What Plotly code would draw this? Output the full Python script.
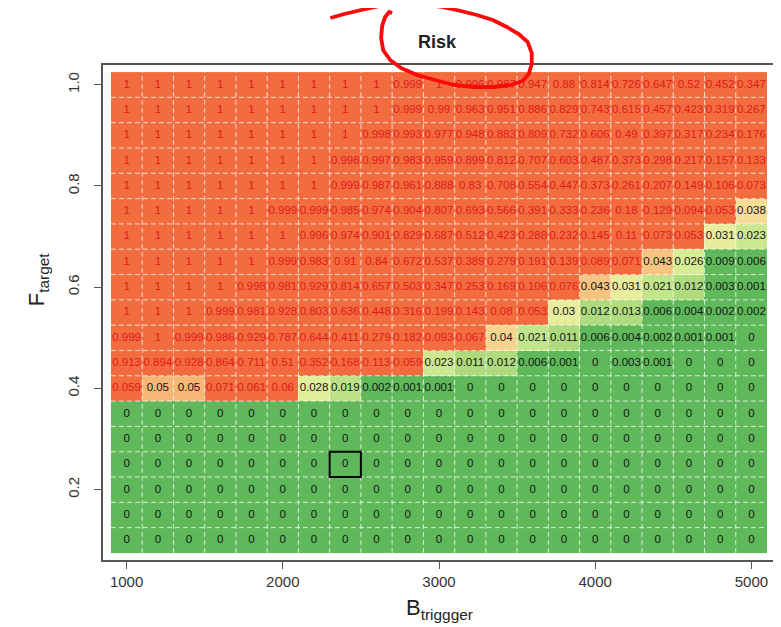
import plotly.graph_objects as go

# ---------------- data ----------------
b_trigger = [1000 + 200 * i for i in range(21)]
f_target = [round(0.10 + 0.05 * j, 2) for j in range(19)]

risk_100 = [1, 1, 1, 1, 1, 1, 1, 1, 1, 0.999, 1, 0.996, 0.987, 0.947, 0.88, 0.814, 0.726, 0.647, 0.52, 0.452, 0.347]
risk_095 = [1, 1, 1, 1, 1, 1, 1, 1, 1, 0.999, 0.99, 0.963, 0.951, 0.886, 0.829, 0.743, 0.615, 0.457, 0.423, 0.319, 0.267]
risk_090 = [1, 1, 1, 1, 1, 1, 1, 1, 0.998, 0.993, 0.977, 0.948, 0.883, 0.809, 0.732, 0.606, 0.49, 0.397, 0.317, 0.234, 0.176]
risk_085 = [1, 1, 1, 1, 1, 1, 1, 0.998, 0.997, 0.983, 0.959, 0.899, 0.812, 0.707, 0.603, 0.487, 0.373, 0.298, 0.217, 0.157, 0.133]
risk_080 = [1, 1, 1, 1, 1, 1, 1, 0.999, 0.987, 0.961, 0.888, 0.83, 0.708, 0.554, 0.447, 0.373, 0.261, 0.207, 0.149, 0.106, 0.073]
risk_075 = [1, 1, 1, 1, 1, 0.999, 0.999, 0.985, 0.974, 0.904, 0.807, 0.693, 0.566, 0.391, 0.333, 0.236, 0.18, 0.129, 0.094, 0.053, 0.038]
risk_070 = [1, 1, 1, 1, 1, 1, 0.996, 0.974, 0.901, 0.829, 0.687, 0.512, 0.423, 0.288, 0.232, 0.145, 0.11, 0.073, 0.053, 0.031, 0.023]
risk_065 = [1, 1, 1, 1, 1, 0.999, 0.983, 0.91, 0.84, 0.672, 0.537, 0.389, 0.279, 0.191, 0.139, 0.089, 0.071, 0.043, 0.026, 0.009, 0.006]
risk_060 = [1, 1, 1, 1, 0.998, 0.981, 0.929, 0.814, 0.657, 0.503, 0.347, 0.253, 0.169, 0.106, 0.076, 0.043, 0.031, 0.021, 0.012, 0.003, 0.001]
risk_055 = [1, 1, 1, 0.999, 0.981, 0.928, 0.803, 0.636, 0.448, 0.316, 0.199, 0.143, 0.08, 0.053, 0.03, 0.012, 0.013, 0.006, 0.004, 0.002, 0.002]
risk_050 = [0.999, 1, 0.999, 0.986, 0.929, 0.787, 0.644, 0.411, 0.279, 0.182, 0.093, 0.067, 0.04, 0.021, 0.011, 0.006, 0.004, 0.002, 0.001, 0.001, 0]
risk_045 = [0.913, 0.894, 0.928, 0.864, 0.711, 0.51, 0.352, 0.168, 0.113, 0.059, 0.023, 0.011, 0.012, 0.006, 0.001, 0, 0.003, 0.001, 0, 0, 0]
risk_040 = [0.059, 0.05, 0.05, 0.071, 0.061, 0.06, 0.028, 0.019, 0.002, 0.001, 0.001, 0, 0, 0, 0, 0, 0, 0, 0, 0, 0]
risk_035 = [0] * 21
risk_030 = [0] * 21
risk_025 = [0] * 21
risk_020 = [0] * 21
risk_015 = [0] * 21
risk_010 = [0] * 21

# rows listed bottom (F=0.10) to top (F=1.00)
risk_rows = [risk_010, risk_015, risk_020, risk_025, risk_030, risk_035, risk_040,
             risk_045, risk_050, risk_055, risk_060, risk_065, risk_070, risk_075,
             risk_080, risk_085, risk_090, risk_095, risk_100]

x_ticks = [1000, 2000, 3000, 4000, 5000]
y_ticks = [0.2, 0.4, 0.6, 0.8, 1.0]
y_tick_labels = ["0.2", "0.4", "0.6", "0.8", "1.0"]

highlight_b = 2400
highlight_f = 0.25

title_text = "<b>Risk</b>"
x_title = "B<sub>triggger</sub>"
y_title = "F<sub>target</sub>"

# ---------------- styling ----------------
GREEN = "rgb(95,185,90)"
RED = "rgb(242,108,64)"
threshold = 0.05
colorscale = [
    [0.0, GREEN],
    [0.0099, GREEN],
    [0.011, "rgb(172,218,125)"],
    [0.02, "rgb(190,226,135)"],
    [0.028, "rgb(224,239,155)"],
    [0.036, "rgb(246,231,160)"],
    [0.043, "rgb(246,196,128)"],
    [0.05, "rgb(245,182,118)"],
    [0.0501, RED],
    [1.0, RED],
]

dx = b_trigger[1] - b_trigger[0]
dy = f_target[1] - f_target[0]

fig = go.Figure()
fig.add_trace(go.Heatmap(
    x=b_trigger, y=f_target, z=risk_rows,
    zmin=0, zmax=1, colorscale=colorscale, showscale=False,
    hoverinfo="skip",
))

tx, ty, tt, tc = [], [], [], []
for j, f in enumerate(f_target):
    for i, b in enumerate(b_trigger):
        v = risk_rows[j][i]
        tx.append(b)
        ty.append(f)
        tt.append(f"{v:g}")
        tc.append("rgb(225,25,25)" if v > threshold else "rgb(20,20,20)")

fig.add_trace(go.Scatter(
    x=tx, y=ty, text=tt, mode="text",
    textfont=dict(family="Liberation Sans, Arial", size=11.5, color=tc),
    hoverinfo="skip", showlegend=False,
))

shapes = []
x_lo, x_hi = b_trigger[0] - dx / 2, b_trigger[-1] + dx / 2
y_lo, y_hi = f_target[0] - dy / 2, f_target[-1] + dy / 2
grid_line = dict(color="rgba(255,255,255,0.75)", width=1, dash="5px,3px")
for k in range(len(b_trigger) - 1):
    xb = (b_trigger[k] + b_trigger[k + 1]) / 2
    shapes.append(dict(type="line", xref="x", yref="y", x0=xb, x1=xb, y0=y_lo, y1=y_hi,
                       line=grid_line, layer="above"))
for k in range(len(f_target) - 1):
    yb = (f_target[k] + f_target[k + 1]) / 2
    shapes.append(dict(type="line", xref="x", yref="y", x0=x_lo, x1=x_hi, y0=yb, y1=yb,
                       line=grid_line, layer="above"))

shapes.append(dict(type="rect", xref="x", yref="y",
                   x0=highlight_b - dx / 2, x1=highlight_b + dx / 2,
                   y0=highlight_f - dy / 2, y1=highlight_f + dy / 2,
                   line=dict(color="black", width=2), layer="above"))

# page offset (browser body margin) and reference pixel frame of the plot box
OFF = 8
W, H = 781, 627
PL, PR, PT, PB = 103, 777, 65, 560


def px(v):
    return (v - PL) / (PR - PL)


def py(v):
    return (PB - v) / (PB - PT)


# hand-drawn red loop around the title (decoration, in reference pixel units)
ink = [(331, 18), (345, 14), (362, 10), (380, 6), (402, 4), (423, 4), (443, 7),
       (462, 11), (478, 15), (494, 20), (508, 27), (520, 34), (529, 42), (533, 53),
       (533, 64), (530, 74), (524, 81), (512, 85), (495, 87), (475, 87), (455, 85),
       (436, 80), (418, 75), (402, 68), (391, 60), (384, 50), (382, 38), (383, 26),
       (386, 17), (390, 12), (393, 13)]
path = "M " + " L ".join(f"{px(a):.4f},{py(b):.4f}" for a, b in ink)
shapes.append(dict(type="path", xref="paper", yref="paper", path=path,
                   line=dict(color="rgb(250,10,10)", width=3.8)))

font_family = "Liberation Sans, Arial"
annotations = [
    dict(text=title_text, xref="paper", yref="paper", x=px(438), y=py(42),
         xanchor="center", yanchor="middle", showarrow=False,
         font=dict(family=font_family, size=18, color="#222")),
    dict(text=x_title, xref="paper", yref="paper", x=px(440), y=py(609),
         xanchor="center", yanchor="middle", showarrow=False,
         font=dict(family=font_family, size=22, color="#222")),
    dict(text=y_title, xref="paper", yref="paper", x=px(38), y=py(279),
         xanchor="center", yanchor="middle", showarrow=False, textangle=-90,
         font=dict(family=font_family, size=22, color="#222")),
]

axis_common = dict(showline=True, mirror=True, linecolor="#555", linewidth=1.6,
                   ticks="outside", ticklen=7, tickwidth=1.2, tickcolor="#555",
                   showgrid=False, zeroline=False,
                   tickfont=dict(family=font_family, size=15, color="#333"))

fig.update_layout(
    width=W - OFF, height=H - OFF,
    margin=dict(l=PL - OFF, r=W - PR, t=PT - OFF, b=H - PB),
    paper_bgcolor="white", plot_bgcolor="white",
    xaxis=dict(range=[849, 5151], tickvals=x_ticks, **axis_common),
    yaxis=dict(range=[0.061, 1.039], tickvals=y_ticks, ticktext=y_tick_labels,
               tickangle=-90, ticklabelstandoff=9, **axis_common),
    shapes=shapes, annotations=annotations, showlegend=False,
)

fig.write_html("out.html")
